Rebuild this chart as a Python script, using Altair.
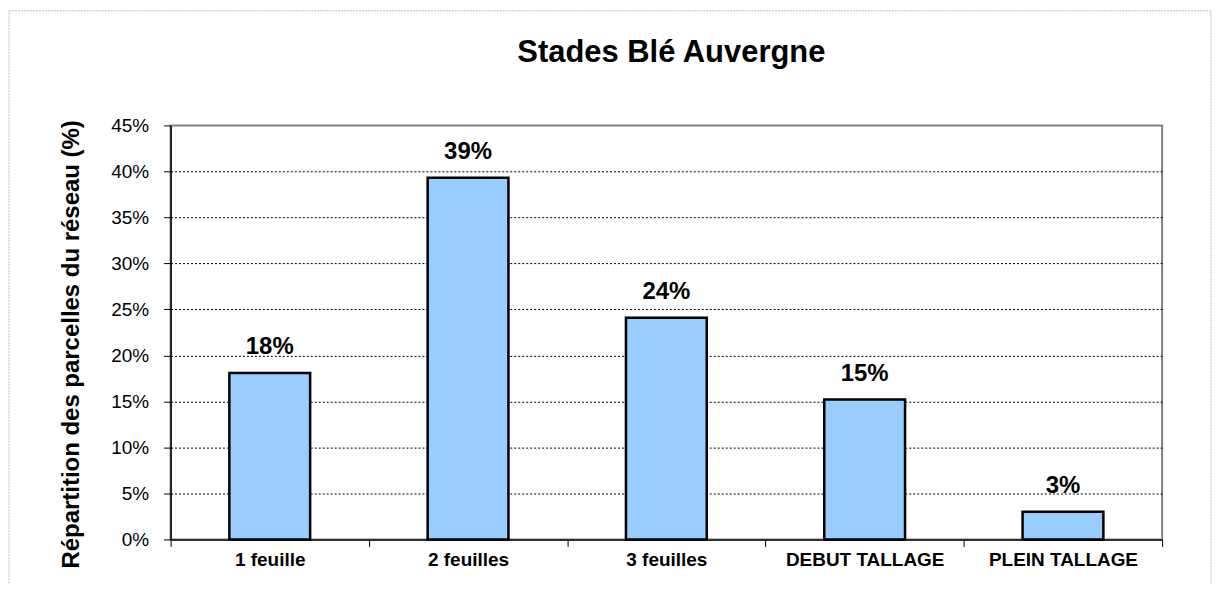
import altair as alt
import pandas as pd

categories = ["1 feuille", "2 feuilles", "3 feuilles", "DEBUT TALLAGE", "PLEIN TALLAGE"]
shares = [0.181, 0.393, 0.241, 0.152, 0.030]
y_ticks = [0, 0.05, 0.10, 0.15, 0.20, 0.25, 0.30, 0.35, 0.40, 0.45]

df = pd.DataFrame({"stade": categories, "part": shares})
FONT = "Liberation Sans"

base = alt.Chart(df)

x_enc = alt.X(
    "stade:N",
    sort=categories,
    scale=alt.Scale(paddingInner=0, paddingOuter=0),
    axis=alt.Axis(
        title=None,
        labelAngle=0,
        labelFont=FONT,
        labelFontSize=19,
        labelFontWeight="bold",
        labelColor="black",
        labelPadding=4,
        tickBand="extent",
        tickSize=7,
        tickColor="black",
        tickWidth=1,
        domainColor="#303030",
        domainWidth=2,
        grid=False,
    ),
)

y_enc = alt.Y(
    "part:Q",
    scale=alt.Scale(domain=[0, 0.45], nice=False),
    axis=alt.Axis(
        title="Répartition des parcelles du réseau (%)",
        titleFont=FONT,
        titleFontSize=24,
        titleFontWeight="bold",
        titleColor="black",
        titleAngle=270,
        titleAlign="center",
        titleBaseline="middle",
        titleX=-99,
        titleY=219,
        values=y_ticks,
        format=".0%",
        labelFont=FONT,
        labelFontSize=19,
        labelColor="black",
        labelPadding=15,
        tickSize=7,
        tickColor="black",
        tickWidth=1,
        domainColor="black",
        domainWidth=1.5,
        grid=True,
        gridColor="black",
        gridDash=[2, 2],
        gridWidth=1,
        gridOpacity={"condition": {"test": "datum.value >= 0.449 || datum.value == 0", "value": 0}, "value": 1},
    ),
)

bars = base.mark_bar(size=81, fill="#99CCFF", stroke="black", strokeWidth=2.5).encode(
    x=x_enc, y=y_enc
)

labels = base.mark_text(
    font=FONT, fontSize=24, fontWeight="bold", baseline="bottom", dy=-14, color="black"
).encode(
    x=alt.X("stade:N", sort=categories),
    y="part:Q",
    text=alt.Text("part:Q", format=".0%"),
)

frame = alt.Chart(pd.DataFrame({"f": [0]})).mark_rect(
    fill=None, stroke="#bdbdbd", strokeWidth=1, strokeDash=[2, 1]
).encode(
    x=alt.value(-162), x2=alt.value(1043), y=alt.value(-115), y2=alt.value(470)
)

chart = (
    alt.layer(frame, bars, labels)
    .properties(
        width=994,
        height=415,
        title=alt.TitleParams(
            "Stades Blé Auvergne",
            font=FONT,
            fontSize=31,
            fontWeight="bold",
            color="black",
            anchor="middle",
            frame="group",
            dx=5,
            offset=-59,
        ),
        autosize=alt.AutoSizeParams(type="none"),
        padding={"left": 163, "top": 117, "right": 50, "bottom": 44},
    )
    .configure_view(stroke="#808080", strokeWidth=2)
)

chart.save("out.html", embed_options={"renderer": "svg", "actions": False})
